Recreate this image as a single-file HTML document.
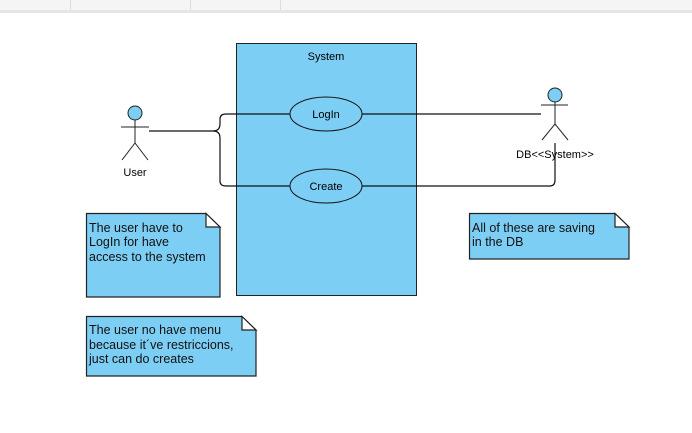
<!DOCTYPE html>
<html><head><style>
body{margin:0;width:692px;height:428px;background:#fff;overflow:hidden;font-family:"Liberation Sans",Arial,sans-serif}
</style></head><body>
<svg width="692" height="428" xmlns="http://www.w3.org/2000/svg" font-family="Liberation Sans, Arial, sans-serif">
<rect x="0" y="0" width="692" height="10" fill="#f5f5f5"/>
<rect x="0" y="10" width="692" height="3" fill="#e6e6e6"/>
<line x1="70.5" y1="0" x2="70.5" y2="10" stroke="#ddd"/>
<line x1="190.5" y1="0" x2="190.5" y2="10" stroke="#ddd"/>
<line x1="280.5" y1="0" x2="280.5" y2="10" stroke="#ddd"/>
<rect x="236.5" y="43.5" width="180" height="252" fill="#7dcef4" stroke="#222"/>
<text x="326" y="60" font-size="11" text-anchor="middle">System</text>
<g fill="none" stroke="#111" stroke-width="1.2">
<path d="M149 131 H213 Q220 131 220 124 V119 Q220 114 226 114 H290"/>
<path d="M213 131 Q220 131 220 138 V181 Q220 186 226 186 H290"/>
<path d="M362 114 H541"/>
<path d="M362 186 H550 Q555 186 555 180 V143"/>
</g>
<ellipse cx="326" cy="114" rx="36" ry="17" fill="#7dcef4" stroke="#111"/>
<text x="326" y="118" font-size="11" text-anchor="middle">LogIn</text>
<ellipse cx="326" cy="186" rx="36" ry="17" fill="#7dcef4" stroke="#111"/>
<text x="326" y="190" font-size="11" text-anchor="middle">Create</text>
<g stroke="#222" fill="none">
<line x1="135" y1="120" x2="135" y2="143"/><line x1="121" y1="127" x2="149" y2="127"/>
<line x1="135" y1="143" x2="122" y2="160"/><line x1="135" y1="143" x2="148" y2="160"/>
<line x1="555" y1="102" x2="555" y2="124"/><line x1="541" y1="105" x2="568" y2="105"/>
<line x1="555" y1="124" x2="542" y2="140"/><line x1="555" y1="124" x2="568" y2="140"/>
</g>
<circle cx="135" cy="113" r="7" fill="#7dcef4" stroke="#222"/>
<circle cx="555" cy="95" r="7" fill="#7dcef4" stroke="#222"/>
<text x="135" y="176" font-size="11" text-anchor="middle">User</text>
<text x="555" y="158" font-size="11" text-anchor="middle">DB&lt;&lt;System&gt;&gt;</text>
<g stroke="#222" stroke-width="1.2">
<path d="M86.5 213.5 H206 L220 227 V297 H86.5 Z" fill="#7dcef4"/>
<path d="M206 213.5 V227 H220 Z" fill="#fff"/>
<path d="M86.5 316.5 H242 L256 330 V376 H86.5 Z" fill="#7dcef4"/>
<path d="M242 316.5 V330 H256 Z" fill="#fff"/>
<path d="M469.5 213.5 H615 L629 227 V259 H469.5 Z" fill="#7dcef4"/>
<path d="M615 213.5 V227 H629 Z" fill="#fff"/>
</g>
<g font-size="12.5" fill="#111">
<text x="89" y="232">The user have to</text>
<text x="89" y="246">LogIn for have</text>
<text x="89" y="261">access to the system</text>
<text x="89" y="334">The user no have menu</text>
<text x="89" y="349">because it´ve restriccions,</text>
<text x="89" y="363">just can do creates</text>
<text x="472" y="232">All of these are saving</text>
<text x="472" y="246">in the DB</text>
</g>
</svg>
</body></html>
